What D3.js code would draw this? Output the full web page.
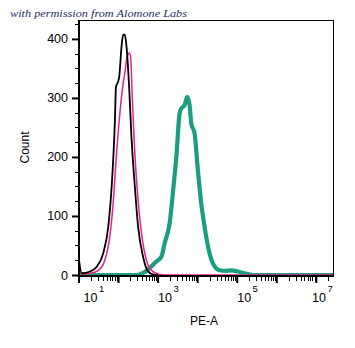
<!DOCTYPE html>
<html>
<head>
<meta charset="utf-8">
<script src="https://cdn.jsdelivr.net/npm/d3@7/dist/d3.min.js"></script>
<style>
  html, body { margin: 0; padding: 0; background: #fff; }
  svg { display: block; }
  text { font-family: "Liberation Sans", Arial, sans-serif; }
</style>
</head>
<body>
<svg id="chart" width="355" height="348"></svg>
<script>
// PE-A histogram: three overlaid samples (intensity, cell count)
const blackPE    = [10, 11.7, 19, 28, 41, 55, 67, 81, 86, 98, 104, 119, 131, 144, 159, 185, 212, 258, 312, 417, 557, 821, 1000];
const blackCount = [25, 3, 6, 14, 37, 82, 150, 263, 319, 328, 336, 387, 407, 407, 387, 319, 234, 150, 82, 31, 6, 0, 0];

const pinkPE    = [10, 11.7, 19, 31, 45, 60, 73, 89, 108, 131, 144, 165, 185, 201, 225, 258, 312, 380, 507, 678, 1100, 2000, 2.8e7];
const pinkCount = [5, 2, 3, 8, 25, 65, 121, 206, 274, 325, 342, 370, 376, 370, 291, 206, 127, 71, 25, 8, 1, 0, 0];

const tealPE    = [10, 284, 459, 614, 905, 1211, 1466, 1960, 2372, 2890, 3500, 3863, 4677, 5470, 6250, 6900, 8360, 10120, 12330, 14930, 19150, 24150, 35600, 52500, 70200, 103000, 151700, 245700, 2.8e7];
const tealCount = [0, 0, 5, 12, 23, 31, 54, 88, 140, 200, 274, 282, 288, 302, 288, 257, 240, 178, 121, 82, 42, 20, 8, 7, 8, 6, 3, 0, 0];

const yMajorTicks = [0, 100, 200, 300, 400];
const xLabelExponents = [1, 3, 5, 7];
const xDomain = [10, 2.8e7];
const yDomain = [0, 432];

const svg = d3.select("#chart");
const plotLeft = 79, plotRight = 334, plotTop = 20, plotBottom = 275;

const x = d3.scaleLog().domain(xDomain).range([plotLeft, plotRight]);
const y = d3.scaleLinear().domain(yDomain).range([plotBottom, plotTop]);

// credit line
svg.append("text")
  .attr("x", 10).attr("y", 17)
  .attr("textLength", 177).attr("lengthAdjust", "spacingAndGlyphs")
  .style("font-family", "'Liberation Serif', 'DejaVu Serif', serif")
  .style("font-style", "italic")
  .style("font-size", "11px")
  .attr("fill", "#1f2f66")
  .text("with permission from Alomone Labs");

svg.append("clipPath").attr("id", "plot-clip")
  .append("rect").attr("x", plotLeft).attr("y", plotTop)
  .attr("width", plotRight - plotLeft).attr("height", plotBottom - plotTop + 1);

const line = d3.line()
  .x(d => x(d[0]))
  .y(d => y(d[1]))
  .curve(d3.curveMonotoneX);

const series = [
  { pe: tealPE,  count: tealCount,  color: "#1b9e80", width: 4.2 },
  { pe: pinkPE,  count: pinkCount,  color: "#e8218a", width: 1.5 },
  { pe: blackPE, count: blackCount, color: "#000000", width: 1.8 }
];

const plot = svg.append("g").attr("clip-path", "url(#plot-clip)");
series.forEach(s => {
  plot.append("path")
    .datum(d3.zip(s.pe, s.count))
    .attr("fill", "none")
    .attr("stroke", s.color)
    .attr("stroke-width", s.width)
    .attr("stroke-linejoin", "round")
    .attr("d", line);
});

// frame: thin top/right, heavier left/bottom axes
svg.append("line").attr("x1", plotLeft).attr("x2", plotRight).attr("y1", plotTop + 0.5).attr("y2", plotTop + 0.5)
  .attr("stroke", "#000").attr("stroke-width", 1);
svg.append("line").attr("x1", plotRight - 0.5).attr("x2", plotRight - 0.5).attr("y1", plotTop).attr("y2", plotBottom + 1)
  .attr("stroke", "#000").attr("stroke-width", 1);

// y axis
const yMinor = d3.range(0, yDomain[1] + 1, 25).filter(v => v % 100 !== 0);
const yAxis = d3.axisLeft(y).tickValues(yMajorTicks).tickSize(7).tickPadding(4).tickFormat(d3.format("d"));
const gy = svg.append("g").attr("transform", `translate(${plotLeft},0)`).call(yAxis);
gy.select(".domain").remove();
gy.selectAll(".tick line").attr("stroke-width", 2);
gy.selectAll(".tick text").style("font-size", "12.5px").attr("fill", "#000");
svg.append("g").selectAll("line").data(yMinor).join("line")
  .attr("x1", plotLeft - 4).attr("x2", plotLeft)
  .attr("y1", d => Math.round(y(d)) + 0.5).attr("y2", d => Math.round(y(d)) + 0.5)
  .attr("stroke", "#000").attr("stroke-width", 1);
svg.append("line").attr("x1", plotLeft).attr("x2", plotLeft).attr("y1", plotTop).attr("y2", plotBottom + 2)
  .attr("stroke", "#000").attr("stroke-width", 2);

// x axis (log decades with minor ticks)
const xMajor = d3.range(1, 8).map(e => Math.pow(10, e));
const xMinor = [];
for (let e = 1; e <= 7; e++) {
  for (let m = 2; m <= 9; m++) {
    const v = m * Math.pow(10, e);
    if (v <= xDomain[1]) xMinor.push(v);
  }
}
const axisY = plotBottom + 1;
const gx = svg.append("g");
gx.selectAll("line.major").data(xMajor).join("line").attr("class", "major")
  .attr("x1", d => x(d)).attr("x2", d => x(d))
  .attr("y1", axisY).attr("y2", axisY + 7)
  .attr("stroke", "#000").attr("stroke-width", 2);
gx.selectAll("line.minor").data(xMinor).join("line").attr("class", "minor")
  .attr("x1", d => Math.round(x(d)) + 0.5).attr("x2", d => Math.round(x(d)) + 0.5)
  .attr("y1", axisY).attr("y2", axisY + 5)
  .attr("stroke", "#000").attr("stroke-width", 1);
svg.append("line").attr("x1", plotLeft - 1).attr("x2", plotRight).attr("y1", axisY).attr("y2", axisY)
  .attr("stroke", "#000").attr("stroke-width", 2);

// decade labels, kept inside the plot width
const labelW = 19;
xLabelExponents.forEach(e => {
  let sx = x(Math.pow(10, e));
  sx = Math.max(sx, plotLeft + 4.5);
  sx = Math.min(sx, plotRight - 3 - labelW);
  const t = svg.append("text").attr("x", sx).attr("y", 301.5)
    .style("font-size", "12.5px").attr("fill", "#000");
  t.append("tspan").text("10");
  t.append("tspan").attr("dx", 1.5).attr("dy", -10).style("font-size", "9.5px").text(String(e));
});

// axis titles
svg.append("text").attr("x", 204).attr("y", 324.5).attr("text-anchor", "middle")
  .style("font-size", "12px").attr("fill", "#000").text("PE-A");
svg.append("text").attr("transform", "translate(29,147.5) rotate(-90)").attr("text-anchor", "middle")
  .style("font-size", "12px").attr("fill", "#000").text("Count");
</script>
</body>
</html>
